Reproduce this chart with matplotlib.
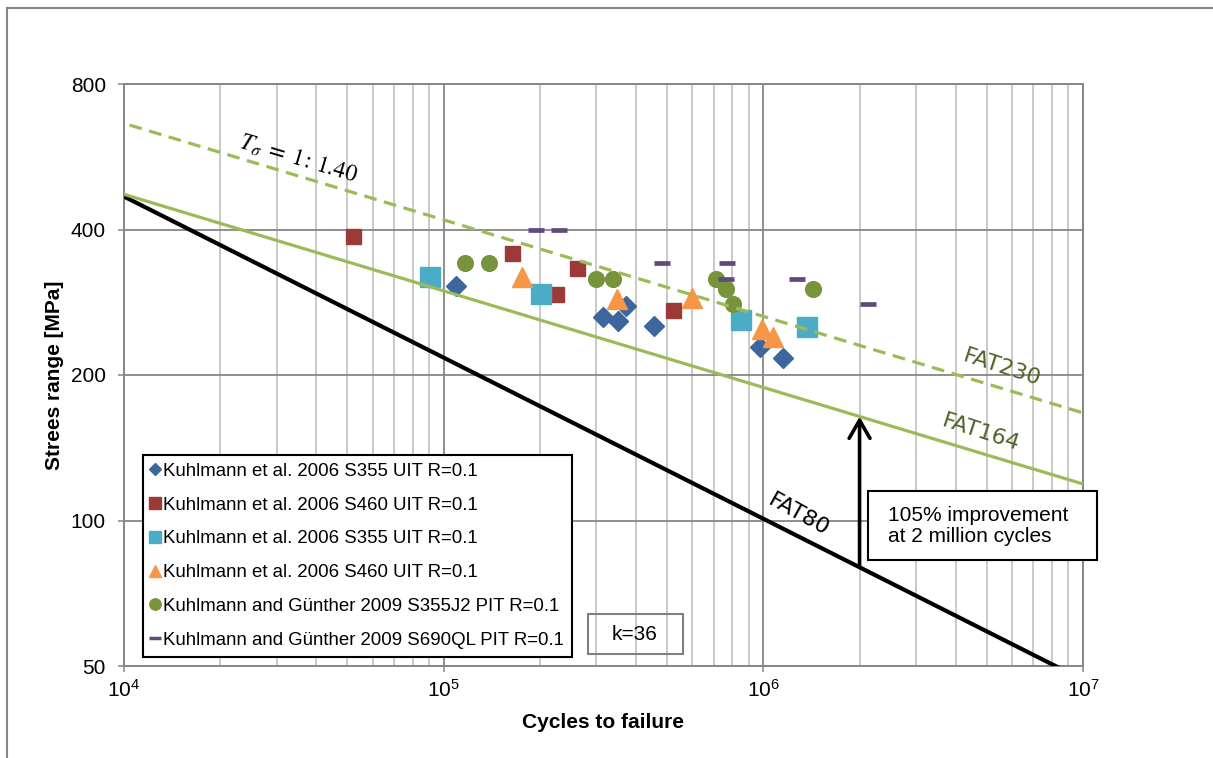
import matplotlib.pyplot as plt
from matplotlib.lines import Line2D
from matplotlib.patches import Rectangle
from matplotlib.ticker import LogLocator, NullLocator, NullFormatter

plt.rcParams['font.family'] = ['Liberation Sans', 'DejaVu Sans']

# test series: cycles to failure and stress range [MPa]
blue_n = [1.09e5, 3.15e5, 3.51e5, 3.72e5, 4.55e5, 9.76e5, 1.15e6]
blue_s = [306, 264, 259, 278, 253, 229, 217]

red_n = [5.2e4, 1.64e5, 2.25e5, 2.61e5, 5.22e5]
red_s = [388, 358, 294, 333, 272]

cyan_n = [9.06e4, 2.02e5, 8.51e5, 1.37e6]
cyan_s = [319, 294, 260, 251]

orange_n = [1.76e5, 3.49e5, 5.98e5, 9.9e5, 1.07e6]
orange_s = [319, 287, 289, 249, 240]

green_n = [1.17e5, 1.39e5, 3.0e5, 3.39e5, 7.11e5, 7.64e5, 8.04e5, 1.43e6]
green_s = [341, 341, 316, 316, 316, 301, 281, 301]

purple_n = [1.95e5, 2.3e5, 4.82e5, 7.7e5, 7.64e5, 1.27e6, 2.13e6]
purple_s = [400, 400, 341, 341, 316, 316, 281]

labels = ['Kuhlmann et al. 2006 S355 UIT R=0.1',
          'Kuhlmann et al. 2006 S460 UIT R=0.1',
          'Kuhlmann et al. 2006 S355 UIT R=0.1',
          'Kuhlmann et al. 2006 S460 UIT R=0.1',
          'Kuhlmann and Günther 2009 S355J2 PIT R=0.1',
          'Kuhlmann and Günther 2009 S690QL PIT R=0.1']

# design curves (end points)
fat80_n = [1e4, 1e7]
fat80_s = [468, 46.8]
fat164_n = [1e4, 1e7]
fat164_s = [473, 119]
fat230_n = [1.04e4, 1e7]
fat230_s = [658, 167]

y_ticks = [50, 100, 200, 400, 800]

W, H = 1213, 758


def fx(x):
    return x / W


def fy(y):
    return 1 - y / H


fig = plt.figure(figsize=(W / 100, H / 100), dpi=100)
ax = fig.add_axes([fx(124), fy(666), fx(1083) - fx(124), fy(84) - fy(666)])

ax.set_xscale('log')
ax.set_yscale('log', base=2)
ax.set_xlim(1e4, 1e7)
ax.set_ylim(50, 800)
ax.set_yticks(y_ticks)
ax.set_yticklabels([str(v) for v in y_ticks])
ax.yaxis.set_minor_locator(NullLocator())
ax.xaxis.set_minor_locator(LogLocator(base=10, subs=range(2, 10), numticks=50))
ax.xaxis.set_minor_formatter(NullFormatter())

grey = '#868686'
ax.set_axisbelow(True)
ax.grid(which='major', axis='both', color=grey, lw=1.3)
ax.grid(which='minor', axis='x', color='#c0c0c0', lw=1.2)
for sp in ax.spines.values():
    sp.set_color(grey)
    sp.set_linewidth(1.4)
ax.tick_params(which='major', direction='out', length=4, width=1.1, color=grey,
               labelsize=15)
ax.tick_params(axis='y', pad=9)
ax.tick_params(axis='x', pad=5)
ax.tick_params(which='minor', length=0)

ax.set_xlabel('Cycles to failure', fontsize=15, fontweight='bold')
ax.set_ylabel('Strees range [MPa]', fontsize=15, fontweight='bold')
ax.xaxis.set_label_coords(0.5, -0.08)
ax.yaxis.set_label_coords(-0.063, 0.5)

# test data
ax.plot(blue_n, blue_s, ls='none', marker='D', ms=10, color='#3d679c', zorder=3)
ax.plot(red_n, red_s, ls='none', marker='s', ms=10.8, color='#9c3a37', zorder=3)
ax.plot(cyan_n, cyan_s, ls='none', marker='s', ms=14.4, color='#4bacc6', zorder=3)
ax.plot(orange_n, orange_s, ls='none', marker='^', ms=15, color='#f79646', zorder=3)
ax.plot(green_n, green_s, ls='none', marker='o', ms=11.3, color='#77933c', zorder=3)
ax.plot(purple_n, purple_s, ls='none', marker='_', ms=11, mew=3.4,
        color='#604a7b', zorder=3)

# design curves
ax.plot(fat80_n, fat80_s, color='black', lw=3, zorder=4)
ax.plot(fat164_n, fat164_s, color='#9bbb59', lw=2.3, zorder=4)
ax.plot(fat230_n, fat230_s, color='#9bbb59', lw=2.3, dashes=(4, 2.4), zorder=4)

ax.text(1.29e6, 102.6, 'FAT80', fontsize=16, family='DejaVu Sans', rotation=-29,
        ha='center', va='center', color='black')
ax.text(5.58e6, 207, 'FAT230', fontsize=16, family='DejaVu Sans', rotation=-18,
        ha='center', va='center', color='#4f6228')
ax.text(4.8e6, 152, 'FAT164', fontsize=16, family='DejaVu Sans', rotation=-18,
        ha='center', va='center', color='#4f6228')
ax.text(3.5e4, 560, r'$T_{\sigma}\;=\;1\!:\,1.40$', fontsize=17, rotation=-16.5,
        ha='center', va='center', math_fontfamily='stix')

# improvement arrow at 2 million cycles
ax.annotate('', xy=(2e6, 164), xytext=(2e6, 80),
            arrowprops=dict(arrowstyle='->,head_length=1.3,head_width=0.75',
                            mutation_scale=10, lw=2.6, color='black',
                            shrinkA=0, shrinkB=0), zorder=5)

fig.add_artist(Rectangle((fx(868), fy(560)), (1097 - 868) / W, (560 - 491) / H,
                         transform=fig.transFigure, facecolor='white',
                         edgecolor='black', lw=1.5, zorder=5))
fig.text(fx(888), fy(526), '105% improvement\nat 2 million cycles', fontsize=15,
         ha='left', va='center', linespacing=1.15, zorder=6)

fig.add_artist(Rectangle((fx(588), fy(654)), (683 - 588) / W, (654 - 614) / H,
                         transform=fig.transFigure, facecolor='none',
                         edgecolor='#808080', lw=1.5, zorder=5))
fig.text(fx(635), fy(634), 'k=36', fontsize=15, ha='center', va='center', zorder=6)

# legend
handles = [
    Line2D([], [], ls='none', marker='D', ms=6.5, color='#3d679c'),
    Line2D([], [], ls='none', marker='s', ms=8.2, color='#9c3a37'),
    Line2D([], [], ls='none', marker='s', ms=8.2, color='#4bacc6'),
    Line2D([], [], ls='none', marker='^', ms=8.5, color='#f79646'),
    Line2D([], [], ls='none', marker='o', ms=8.2, color='#77933c'),
    Line2D([], [], ls='none', marker='_', ms=8.5, mew=2.5, color='#604a7b'),
]
leg = ax.legend(handles, labels, loc='upper left',
                bbox_to_anchor=(fx(143), fy(455)), bbox_transform=fig.transFigure,
                borderaxespad=0, fontsize=13.4, frameon=True, fancybox=False,
                framealpha=1, edgecolor='black', borderpad=0.42, labelspacing=0.9,
                handlelength=0.45, handletextpad=0.2)
leg.get_frame().set_linewidth(1.5)
leg.set_zorder(6)

# outer chart frame
fig.add_artist(Line2D([fx(7), fx(7)], [0, fy(8)], transform=fig.transFigure,
                      color=grey, lw=1.5))
fig.add_artist(Line2D([fx(7), 1], [fy(8), fy(8)], transform=fig.transFigure,
                      color=grey, lw=1.5))

fig.savefig('out.png', dpi=100)
